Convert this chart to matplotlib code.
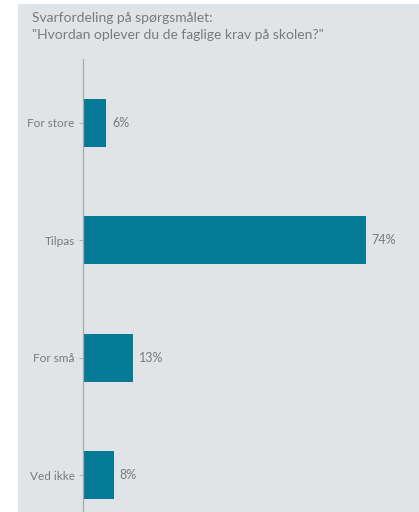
import matplotlib.pyplot as plt
from matplotlib.patches import Rectangle

# data
categories = ["For store", "Tilpas", "For små", "Ved ikke"]
shares = [6, 74, 13, 8]
value_labels = ["6%", "74%", "13%", "8%"]
title_lines = ["Svarfordeling på spørgsmålet:",
               "\"Hvordan oplever du de faglige krav på skolen?\""]

bg = "#e1e4e7"
bar_color = "#067b97"
text_color = "#7a7a7a"

plt.rcParams['font.family'] = ['Lato', 'DejaVu Sans']

W, H = 419, 512
fig = plt.figure(figsize=(W / 100, H / 100), dpi=100, facecolor="white")
# gray panel, leaving a white strip at the left and top
fig.patches.append(Rectangle((18 / W, 0), 1 - 18 / W, 1 - 4 / H,
                             transform=fig.transFigure, facecolor=bg,
                             edgecolor="none", zorder=-10))

ax = fig.add_axes([83 / W, 0, 1 - 83 / W, 1 - 59 / H])
ax.set_facecolor("none")

ypos = range(len(categories))
ax.barh(ypos, shares, height=0.41, color=bar_color)
for y, v, lab in zip(ypos, shares, value_labels):
    ax.annotate(lab, (v, y), xytext=(4.5, 0), textcoords="offset points",
                va="center", ha="left", fontsize=9, color=text_color)

ax.set_xlim(0, 88)
ax.set_ylim(3.315, -0.545)
ax.set_yticks(list(ypos))
ax.set_yticklabels(categories, fontsize=8.5, color=text_color)
ax.tick_params(axis="y", length=3, width=0.6, color="#aaaaaa", pad=3)
ax.set_xticks([])
for side in ["top", "right", "bottom"]:
    ax.spines[side].set_visible(False)
ax.spines["left"].set_color("#a8a8a8")
ax.spines["left"].set_linewidth(0.9)

fig.text(32 / W, 1 - 18 / H, title_lines[0], fontsize=10, color=text_color,
         va="center", ha="left")
fig.text(32 / W, 1 - 35 / H, title_lines[1], fontsize=10, color=text_color,
         va="center", ha="left")

fig.savefig("out.png", dpi=100, facecolor="white")
